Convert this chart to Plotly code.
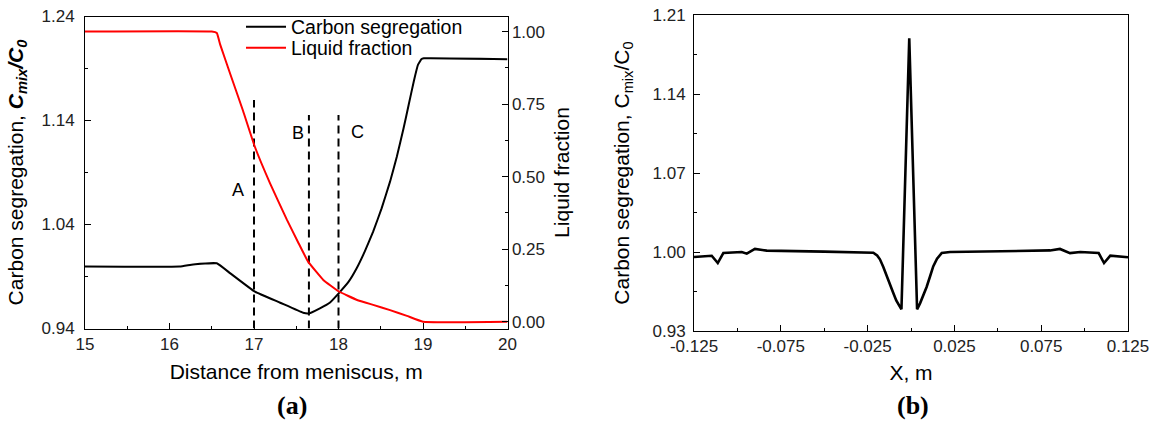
import plotly.graph_objects as go

# ---------------- data: panel (a) ----------------
dist_carbon = [15.0, 16.12, 16.28, 16.56, 16.72, 17.01, 17.31, 17.58, 17.65, 17.78, 17.9, 18.01,
               18.12, 18.215, 18.31, 18.41, 18.51, 18.61, 18.69, 18.77, 18.83, 18.89, 18.94,
               18.98, 19.01, 20.0]
carbon_seg = [0.9995, 0.9995, 1.0015, 1.0027, 0.993, 0.9754, 0.9648, 0.9552, 0.9546, 0.9594, 0.965,
              0.9745, 0.985, 0.9979, 1.0139, 1.0331, 1.0555, 1.0812, 1.1052, 1.1325, 1.1549,
              1.1773, 1.1934, 1.1988, 1.1998, 1.199]

dist_liquid = [15.0, 16.5, 16.56, 16.60, 16.72, 16.87, 17.01, 17.19, 17.39, 17.52, 17.64, 17.82,
               18.0, 18.22, 18.41, 18.61, 18.81, 19.0, 20.0]
liquid_frac = [1.0, 1.0, 0.995, 0.955, 0.853, 0.727, 0.603, 0.477, 0.351, 0.275, 0.207, 0.144,
               0.105, 0.075, 0.058, 0.04, 0.02, 0.0, 0.0]

marker_x = [17.0, 17.65, 18.0]
marker_top = [1.1597, 1.1453, 1.1453]
marker_labels = ["A", "B", "C"]
marker_label_x = [16.81, 17.52, 18.22]
marker_label_y = [1.0732, 1.1277, 1.1292]

# ---------------- data: panel (b) ----------------
x_pos = [-0.125, -0.1148, -0.1113, -0.1081, -0.0975, -0.0946, -0.0899, -0.0831, -0.05, -0.024,
         -0.0217, -0.0195, -0.0179, -0.016, -0.014, -0.012, -0.0102, -0.0085, -0.0073, -0.0055,
         -0.001, 0.0035, 0.0052, 0.0072, 0.009, 0.011, 0.0128, 0.015, 0.0177, 0.0225, 0.05,
         0.0801, 0.0858, 0.0916, 0.0975, 0.1081, 0.1112, 0.1148, 0.125]
seg_b = [0.9956, 0.9967, 0.9902, 0.9991, 1.0, 0.9985, 1.0027, 1.0012, 1.0003, 0.9998,
         0.9993, 0.997, 0.9935, 0.987, 0.9784, 0.970, 0.9636, 0.957, 0.9533, 0.9492,
         1.1894, 0.9492, 0.9545, 0.962, 0.969, 0.9785, 0.9872, 0.994, 0.9991, 1.0, 1.0008,
         1.0014, 1.0027, 0.999, 1.0, 0.9991, 0.9902, 0.9967, 0.9953]

xb_tickvals = [-0.125, -0.075, -0.025, 0.025, 0.075, 0.125]
xb_ticktext = ["-0.125", "-0.075", "-0.025", "0.025", "0.075", "0.125"]
yb_tickvals = [0.93, 1.00, 1.07, 1.14, 1.21]
ya_tickvals = [0.94, 1.04, 1.14, 1.24]
ya2_tickvals = [0.0, 0.25, 0.5, 0.75, 1.0]

FONT = "Arial, Liberation Sans, sans-serif"
SERIF = "Times New Roman, Liberation Serif, serif"
W, H = 1155, 425
TICK_SIZE = 17
TITLE_SIZE = 21


def px_x(p):
    return p / W


def px_y(p):
    return 1 - p / H


fig = go.Figure()

fig.add_trace(go.Scatter(x=dist_carbon, y=carbon_seg, mode="lines", name="Carbon segregation",
                         line=dict(color="black", width=2, shape="spline", smoothing=0.3),
                         xaxis="x", yaxis="y", legend="legend"))
fig.add_trace(go.Scatter(x=dist_liquid, y=liquid_frac, mode="lines", name="Liquid fraction",
                         line=dict(color="#ff0000", width=2, shape="spline", smoothing=0.3),
                         xaxis="x", yaxis="y2", legend="legend2"))
for mx, mt in zip(marker_x, marker_top):
    fig.add_trace(go.Scatter(x=[mx, mx], y=[0.94, mt], mode="lines", showlegend=False,
                             line=dict(color="black", width=2, dash="8px,5px"),
                             xaxis="x", yaxis="y", hoverinfo="skip"))

fig.add_trace(go.Scatter(x=x_pos, y=seg_b, mode="lines", showlegend=False,
                         line=dict(color="black", width=2.6), xaxis="x2", yaxis="y3"))

axis_common = dict(showline=True, linecolor="black", linewidth=1, showgrid=False, zeroline=False,
                   ticks="inside", ticklen=6, tickcolor="black", tickwidth=1,
                   tickfont=dict(family=FONT, size=TICK_SIZE, color="#222"), automargin=False)

legend_common = dict(xanchor="left", yanchor="middle", bgcolor="rgba(0,0,0,0)",
                     font=dict(family=FONT, size=19.5, color="black"), itemwidth=40,
                     borderwidth=0)

fig.update_layout(
    width=W, height=H, margin=dict(l=0, r=0, t=0, b=0),
    paper_bgcolor="white", plot_bgcolor="white",
    font=dict(family=FONT, color="black"),
    showlegend=True,
    legend=dict(legend_common, x=px_x(241), y=px_y(27)),
    legend2=dict(legend_common, x=px_x(241), y=px_y(48)),
    xaxis=dict(axis_common, domain=[px_x(85), px_x(507.5)], range=[15, 20], anchor="y",
               mirror=True, dtick=1, tick0=15,
               minor=dict(ticks="inside", ticklen=3, dtick=0.5, tickcolor="black"),
               title=dict(text="Distance from meniscus, m", font=dict(family=FONT, size=TITLE_SIZE),
                          standoff=11)),
    yaxis=dict(axis_common, domain=[px_y(328.5), px_y(16.5)], range=[0.94, 1.24], anchor="x",
               mirror=True, tickvals=ya_tickvals, tickformat=".2f", ticklabelstandoff=6,
               minor=dict(ticks="inside", ticklen=3, dtick=0.05, tick0=0.94, tickcolor="black"),
               title=dict(text="Carbon segregation, <b><i>C</i></b><sub><b><i>mix</i></b></sub>"
                               "<b><i>/C</i></b><sub><b><i>0</i></b></sub>",
                          font=dict(family=FONT, size=TITLE_SIZE), standoff=12)),
    yaxis2=dict(axis_common, overlaying="y", side="right", anchor="x",
                range=[-0.0234, 1.052], tickvals=ya2_tickvals, tickformat=".2f",
                minor=dict(ticks="inside", ticklen=3, dtick=0.125, tick0=0, tickcolor="black"),
                title=dict(text="Liquid fraction", font=dict(family=FONT, size=TITLE_SIZE),
                           standoff=10)),
    xaxis2=dict(axis_common, domain=[px_x(694), px_x(1128)], range=[-0.125, 0.125], anchor="y3",
                mirror=True, tickvals=xb_tickvals, ticktext=xb_ticktext,
                minor=dict(ticks="inside", ticklen=3, tickvals=[-0.1, -0.05, 0.0, 0.05, 0.1],
                           tickcolor="black"),
                title=dict(text="X, m", font=dict(family=FONT, size=TITLE_SIZE), standoff=9)),
    yaxis3=dict(axis_common, domain=[px_y(331), px_y(15)], range=[0.93, 1.21], anchor="x2",
                mirror=True, tickvals=yb_tickvals, tickformat=".2f", ticklabelstandoff=4,
                minor=dict(ticks="inside", ticklen=3, tickvals=[0.965, 1.035, 1.105, 1.175],
                           tickcolor="black"),
                title=dict(text="Carbon segregation, C<sub>mix</sub>/C<sub>0</sub>",
                           font=dict(family=FONT, size=TITLE_SIZE), standoff=17)),
)

for lab, lx, ly in zip(marker_labels, marker_label_x, marker_label_y):
    fig.add_annotation(x=lx, y=ly, xref="x", yref="y", text=lab, showarrow=False,
                       font=dict(family=FONT, size=18, color="black"))

fig.add_annotation(x=px_x(292), y=px_y(405), xref="paper", yref="paper", text="<b>(a)</b>",
                   xanchor="center", yanchor="middle",
                   showarrow=False, font=dict(family=SERIF, size=26, color="black"))
fig.add_annotation(x=px_x(913), y=px_y(405), xref="paper", yref="paper", text="<b>(b)</b>",
                   xanchor="center", yanchor="middle",
                   showarrow=False, font=dict(family=SERIF, size=26, color="black"))

fig.write_html("out.html")
